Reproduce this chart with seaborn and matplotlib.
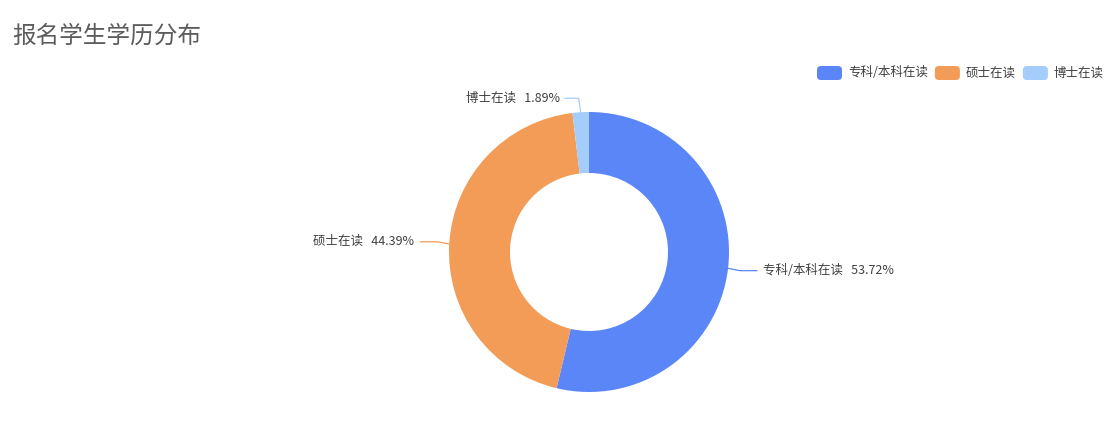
import numpy as np
import matplotlib
matplotlib.use('Agg')
import matplotlib.pyplot as plt
from matplotlib.patches import FancyBboxPatch
import seaborn as sns

# data
categories = ['专科/本科在读', '硕士在读', '博士在读']
shares = [53.72, 44.39, 1.89]
colors = ['#5A86F8', '#F29C57', '#A4CDFB']

sns.set_style('white')
plt.rcParams['font.family'] = ['Noto Sans CJK SC', 'DejaVu Sans']

W, H = 1115, 433
fig = plt.figure(figsize=(W / 100, H / 100), dpi=100)
ax = fig.add_axes([0, 0, 1, 1])

cx, cy = 589, H - 252
r_out, r_in = 140, 79

wedges, _ = ax.pie(shares, colors=colors, startangle=90, counterclock=False,
                   center=(cx, cy), radius=r_out, frame=True,
                   wedgeprops=dict(width=r_out - r_in, edgecolor='none', linewidth=0))
ax.set_xlim(0, W)
ax.set_ylim(0, H)
ax.set_aspect('equal')
ax.axis('off')

# labels with leader lines
for i, w in enumerate(wedges):
    mid = np.deg2rad((w.theta1 + w.theta2) / 2)
    x0 = cx + r_out * np.cos(mid)
    y0 = cy + r_out * np.sin(mid)
    txt = f'{categories[i]}   {shares[i]:.2f}%'
    if shares[i] < 5:
        # small slice: go up then left
        x1, y1 = x0 - 2, y0 + 14
        x2 = x1 - 14
        ax.plot([x0, x1, x2], [y0, y1, y1], color=colors[i], lw=0.9)
        ax.text(x2 - 5, y1, txt, ha='right', va='center', fontsize=9, color='#404040')
    else:
        side = 1 if np.cos(mid) > 0 else -1
        x1 = x0 + side * 12
        y1 = y0 + np.sin(mid) * 3 - side * 2
        x2 = x1 + side * 17
        ax.plot([x0, x1, x2], [y0, y1, y1], color=colors[i], lw=0.9)
        ax.text(x2 + side * 6, y1, txt, ha='left' if side > 0 else 'right',
                va='center', fontsize=9, color='#404040')

# title
fig.text(12 / W, 1 - 36 / H, '报名学生学历分布', fontsize=17, color='#5c5c5c',
         ha='left', va='center')

# legend
lx = 817
ly = H - 73
for cat, col in zip(categories, colors):
    ax.add_patch(FancyBboxPatch((lx, ly - 7), 25, 14,
                                boxstyle='round,pad=0,rounding_size=4',
                                facecolor=col, edgecolor='none'))
    t = ax.text(lx + 31, ly, cat, fontsize=9, color='#404040', va='center', ha='left')
    fig.canvas.draw()
    bb = t.get_window_extent()
    lx = bb.x1 + 7

fig.savefig('out.png', dpi=100, facecolor='white')
